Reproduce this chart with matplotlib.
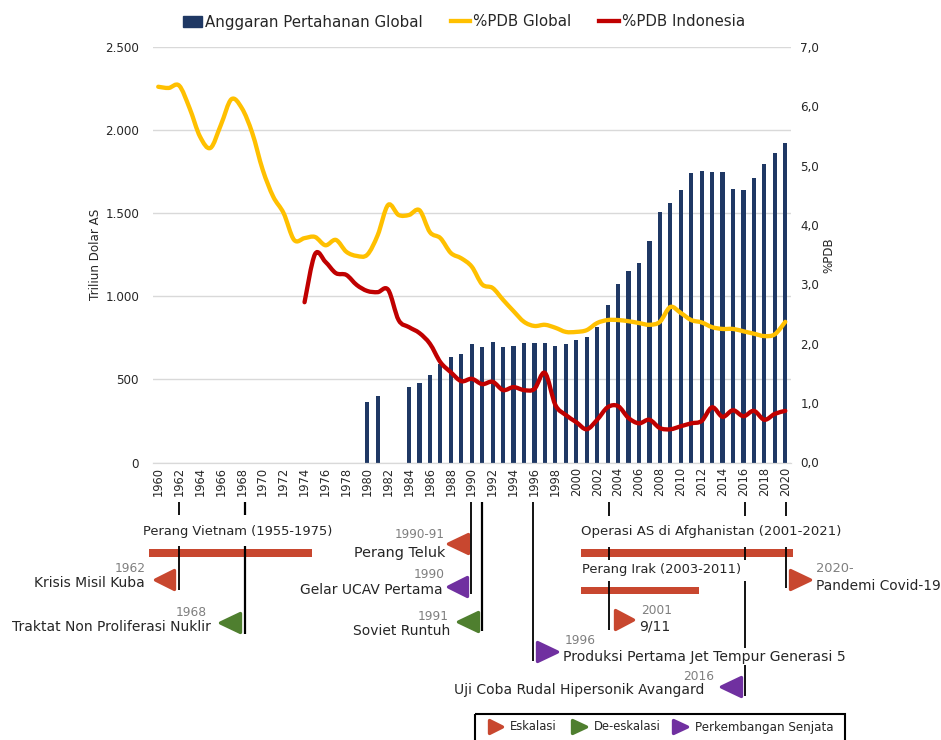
import matplotlib
matplotlib.use('Agg')
import matplotlib.pyplot as plt
from matplotlib.lines import Line2D
from matplotlib.patches import PathPatch, Patch, Rectangle
from matplotlib.path import Path
import numpy as np

plt.rcParams['font.family'] = 'DejaVu Sans'

years = list(range(1960, 2021))
tick_years = years[::2]

# anggaran pertahanan global, mulai 1980
budget_years = [1980, 1981, 1984, 1985, 1986, 1987, 1988, 1989, 1990, 1991, 1992, 1993, 1994,
                1995, 1996, 1997, 1998, 1999, 2000, 2001, 2002, 2003, 2004, 2005, 2006, 2007,
                2008, 2009, 2010, 2011, 2012, 2013, 2014, 2015, 2016, 2017, 2018, 2019, 2020]
budget = [365, 400, 455, 480, 525, 595, 635, 655, 710, 695, 725, 695, 703,
          722, 718, 718, 703, 715, 738, 755, 815, 945, 1075, 1155, 1200, 1335,
          1505, 1560, 1640, 1740, 1752, 1750, 1750, 1648, 1642, 1712, 1797, 1860, 1925]

gdp_global = [6.33, 6.31, 6.35, 5.97, 5.49, 5.30, 5.69, 6.12, 5.97, 5.55,
              4.93, 4.48, 4.20, 3.75, 3.78, 3.80, 3.66, 3.75, 3.55, 3.48,
              3.50, 3.83, 4.34, 4.17, 4.17, 4.25, 3.88, 3.78, 3.53, 3.44,
              3.30, 3.00, 2.94, 2.74, 2.55, 2.37, 2.30, 2.32, 2.27, 2.20,
              2.20, 2.23, 2.35, 2.40, 2.40, 2.38, 2.35, 2.32, 2.37, 2.62,
              2.52, 2.40, 2.36, 2.28, 2.25, 2.25, 2.21, 2.17, 2.13, 2.16, 2.37]

indo_years = years[14:]
gdp_indo = [2.70, 3.51, 3.38, 3.19, 3.16, 2.99, 2.89, 2.87, 2.91, 2.40,
            2.28, 2.18, 2.00, 1.69, 1.52, 1.37, 1.41, 1.32, 1.36, 1.22,
            1.27, 1.22, 1.24, 1.51, 0.97, 0.80, 0.68, 0.56, 0.72, 0.93,
            0.95, 0.75, 0.66, 0.72, 0.58, 0.56, 0.61, 0.66, 0.70, 0.93,
            0.77, 0.88, 0.78, 0.87, 0.72, 0.82, 0.87]

NAVY = '#1F3864'
YELLOW = '#FFC000'
DARKRED = '#C00000'
RED = '#C8472F'
GREEN = '#4F7F2F'
PURPLE = '#7030A0'
GREY = '#7F7F7F'
TEXT = '#262626'

W, H = 941, 740
fig = plt.figure(figsize=(W / 100, H / 100), dpi=100)

left, right, top, bottom = 153, 790.5, 47, 462.5
ax = fig.add_axes([left / W, 1 - bottom / H, (right - left) / W, (bottom - top) / H])
ax2 = ax.twinx()


def smooth_line(axis, xs, ys, color):
    # kurva halus ala Excel, tiap titik data dilewati
    pts = np.column_stack([xs, ys]).astype(float)
    prev_p = np.vstack([pts[0], pts[:-1]])
    next_p = np.vstack([pts[1:], pts[-1]])
    tang = (next_p - prev_p) / 6
    verts = [pts[0]]
    codes = [Path.MOVETO]
    for i in range(len(pts) - 1):
        verts += [pts[i] + tang[i], pts[i + 1] - tang[i + 1], pts[i + 1]]
        codes += [Path.CURVE4] * 3
    axis.add_patch(PathPatch(Path(verts, codes), fill=False, edgecolor=color, lw=3.1,
                             capstyle='round', joinstyle='round'))


ax.bar(budget_years, budget, width=0.4, color=NAVY, zorder=2)
smooth_line(ax2, years, gdp_global, YELLOW)
smooth_line(ax2, indo_years, gdp_indo, DARKRED)

ax.set_xlim(1959.5, 2020.5)
ax.set_ylim(0, 2500)
ax2.set_ylim(0, 7)
ax.set_xticks(tick_years)
ax.set_xticklabels(tick_years, rotation=90, fontsize=8.3, color=TEXT)
ax.set_yticks([0, 500, 1000, 1500, 2000, 2500])
ax.set_yticklabels(['0', '500', '1.000', '1.500', '2.000', '2.500'], fontsize=8.6, color=TEXT)
ax2.set_yticks(range(8))
ax2.set_yticklabels(['%d,0' % v for v in range(8)], fontsize=8.6, color=TEXT)
ax.tick_params(length=0, pad=4)
ax2.tick_params(length=0, pad=7)
ax.tick_params(axis='y', pad=10)
ax.tick_params(axis='x', pad=3)
ax.grid(axis='y', color='#D9D9D9', lw=1)
ax.set_axisbelow(True)
for axis in (ax, ax2):
    for s in ['top', 'left', 'right']:
        axis.spines[s].set_visible(False)
    axis.spines['bottom'].set_color('#D9D9D9')

handles = [Patch(color=NAVY), Line2D([], [], color=YELLOW, lw=3.1), Line2D([], [], color=DARKRED, lw=3.1)]
fig.legend(handles, ['Anggaran Pertahanan Global', '%PDB Global', '%PDB Indonesia'],
           loc='center', bbox_to_anchor=(464 / W, 1 - 22 / H), ncol=3, frameon=False,
           fontsize=10.8, handlelength=1.3, handletextpad=0.2, columnspacing=1.85,
           labelcolor=TEXT)

# lapisan piksel untuk linimasa peristiwa
ov = fig.add_axes([0, 0, 1, 1], zorder=5)
ov.set_xlim(0, W)
ov.set_ylim(H, 0)
ov.axis('off')
ov.patch.set_alpha(0)

ov.text(96, 254, 'Triliun Dolar AS', rotation=90, ha='center', va='center', fontsize=8.6, color=TEXT)
ov.text(829, 255, '%PDB', rotation=90, ha='center', va='center', fontsize=8.6, color=TEXT)


def vline(x, segments, lw=1.3):
    for y0, y1 in segments:
        ov.plot([x, x], [y0, y1], color='black', lw=lw, solid_capstyle='butt')


vline(178.7, [(502, 515), (546, 590)])
vline(245, [(502, 515), (546, 634)], lw=1.6)
vline(471, [(502, 594)])
vline(481.7, [(502, 631)], lw=1.6)
vline(533, [(502, 661)])
vline(609, [(502, 516), (547, 560), (581, 630)])
vline(745, [(502, 516), (547, 560), (581, 648), (665, 696)])
vline(786, [(502, 516), (547, 588)])

for x0, x1, y0, y1 in [(149, 312, 549, 557), (581, 793, 549, 557), (581, 699, 587, 594)]:
    ov.add_patch(Rectangle((x0, y0), x1 - x0, y1 - y0, color=RED, lw=0))


def tri(tip, base, y, color, half=9.5):
    ov.fill([tip, base, base], [y, y - half, y + half], color=color, lw=2.4, joinstyle='round')


tri(155.5, 174.5, 580, RED)
tri(220.5, 240.5, 623, GREEN)
tri(448.5, 468.5, 544, RED)
tri(448.5, 467.5, 587, PURPLE)
tri(458.5, 478.5, 622, GREEN)
tri(557.5, 537.5, 652, PURPLE)
tri(633.5, 615.5, 620, RED)
tri(810.5, 790.5, 580, RED)
tri(721.5, 741.5, 687, PURPLE)


def label(x, y, s, ha='left', color=TEXT, size=10):
    ov.text(x, y, s, ha=ha, va='center', fontsize=size, color=color)


label(238, 531, 'Perang Vietnam (1955-1975)', ha='center', size=9.4)
label(146, 569, '1962', ha='right', color=GREY, size=8.8)
label(145, 583, 'Krisis Misil Kuba', ha='right')
label(207, 613, '1968', ha='right', color=GREY, size=8.8)
label(211, 627, 'Traktat Non Proliferasi Nuklir', ha='right')
label(445, 535, '1990-91', ha='right', color=GREY, size=8.6)
label(445, 553, 'Perang Teluk', ha='right', size=10.4)
label(445, 575, '1990', ha='right', color=GREY, size=8.8)
label(443, 590, 'Gelar UCAV Pertama', ha='right')
label(449, 616, '1991', ha='right', color=GREY, size=8.8)
label(450, 631, 'Soviet Runtuh', ha='right')
label(565, 640, '1996', color=GREY, size=8.8)
label(563, 657, 'Produksi Pertama Jet Tempur Generasi 5', size=10.1)
label(581, 532, 'Operasi AS di Afghanistan (2001-2021)', size=9.5)
label(582, 569, 'Perang Irak (2003-2011)', size=9.4)
label(641, 611, '2001', color=GREY, size=8.8)
label(639, 627, '9/11')
label(816, 569, '2020-', color=GREY, size=9.4)
label(816, 586, 'Pandemi Covid-19', size=9.9)
label(714, 677, '2016', ha='right', color=GREY, size=8.8)
label(704, 690, 'Uji Coba Rudal Hipersonik Avangard', ha='right')

# legenda bawah
ov.add_patch(Rectangle((475, 714), 370, 40, fill=False, edgecolor='black', lw=1.5, clip_on=True))
tri(502.5, 489.5, 727, RED, half=6.5)
tri(586.5, 572.5, 727, GREEN, half=6.5)
tri(687.5, 673.5, 727, PURPLE, half=6.5)
label(510, 727, 'Eskalasi', size=8.4)
label(594, 727, 'De-eskalasi', size=8.4)
label(695, 727, 'Perkembangan Senjata', size=8.6)

fig.savefig('out.png', dpi=100)
